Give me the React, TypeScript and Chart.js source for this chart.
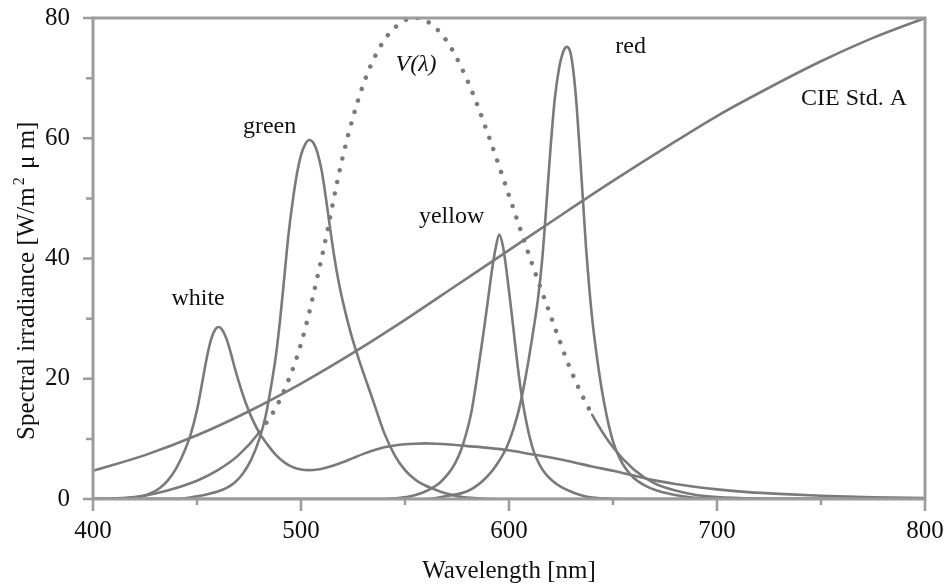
import React, { useEffect, useRef } from "react";
import { Chart, registerables } from "chart.js";

Chart.register(...registerables);

// ---- axis ticks ----
const xTickValues = [400, 450, 500, 550, 600, 650, 700, 750, 800];
const xTickLabels = [400, 500, 600, 700, 800];
const yTickValues = [0, 10, 20, 30, 40, 50, 60, 70, 80];
const yTickLabels = [0, 20, 40, 60, 80];

// ---- CIE Std. A ----
const cieWl = [400, 425, 450, 475, 500, 525, 550, 575, 600, 625, 650, 675, 700, 725, 750, 775, 800];
const cieVal = [4.7, 7.3, 10.6, 14.6, 19.2, 24.3, 29.8, 35.6, 41.4, 47.2, 52.9, 58.4, 63.7, 68.4, 72.8, 76.7, 80];

// ---- V(lambda) ----
const vWl = [400, 410, 420, 430, 440, 450, 460, 470, 480, 490, 500, 510, 520, 530, 540, 550, 555, 560, 570, 580, 590, 600, 610, 620, 630, 640, 650, 660, 670, 680, 690, 700, 720, 740, 760, 800];
const vVal = [0.03, 0.1, 0.32, 0.93, 1.84, 3.04, 4.8, 7.3, 11.1, 16.6, 25.8, 40.2, 56.8, 69.0, 76.3, 79.6, 80, 79.6, 76.2, 69.6, 60.6, 50.5, 40.2, 30.5, 21.2, 14.0, 8.6, 4.9, 2.6, 1.4, 0.66, 0.33, 0.08, 0.02, 0, 0];

// ---- white LED ----
const whiteWl = [400, 410, 418, 424, 428, 432, 436, 440, 444, 447, 450, 453, 455, 457, 459, 460.5, 462, 464, 466, 468, 470, 472, 474.5, 477, 480, 484, 488, 492, 496, 500, 504, 508, 512, 516, 520, 525, 530, 535, 540, 545, 550, 555, 560, 565, 570, 580, 590, 600, 610, 620, 630, 640, 650, 660, 670, 680, 690, 700, 715, 730, 750, 775, 800];
const whiteVal = [0, 0.05, 0.2, 0.5, 1, 1.8, 3.1, 5.1, 8, 10.8, 14.8, 20.3, 24, 26.8, 28.3, 28.6, 28.2, 26.8, 24.6, 22, 19.6, 17.4, 15, 13, 11, 9, 7.3, 6.1, 5.3, 4.9, 4.8, 4.9, 5.2, 5.6, 6.1, 6.8, 7.5, 8.1, 8.6, 8.9, 9.1, 9.2, 9.25, 9.2, 9.1, 8.8, 8.5, 8.1, 7.5, 6.9, 6.2, 5.4, 4.7, 3.9, 3.1, 2.5, 2.0, 1.6, 1.15, 0.85, 0.55, 0.3, 0.15];

// ---- green LED ----
const greenWl = [400, 440, 445, 450, 455, 460, 464, 468, 472, 476, 480, 483, 486, 488, 490, 492, 494, 496, 498, 500, 502, 504, 506, 508, 510, 512, 514, 516, 518, 520, 524, 528, 532, 536, 540, 545, 550, 555, 560, 565, 570, 576, 585, 595, 800];
const greenVal = [0, 0, 0.15, 0.45, 0.8, 1.25, 1.8, 2.7, 4.2, 6.5, 10, 13.8, 19.5, 24, 30, 37, 44, 49.5, 54, 57.2, 59, 59.7, 59.2, 57.5, 54.5, 50, 45, 40.3, 36.3, 33, 27.5, 23, 19, 15, 11, 7.3, 4.8, 3.2, 2.2, 1.5, 0.9, 0.4, 0.1, 0, 0];

// ---- yellow LED ----
const yellowWl = [400, 540, 545, 552, 558, 563, 567, 571, 574, 577, 580, 582, 584, 586, 588, 590, 592, 593.5, 595.3, 597, 598.5, 600, 602, 604, 606, 608, 610, 612, 615, 618, 621, 625, 630, 637, 645, 655, 800];
const yellowVal = [0, 0, 0.1, 0.4, 1.0, 1.8, 2.8, 4.3, 5.9, 8.2, 11.6, 14.6, 18.8, 23.5, 28.3, 33.4, 38.5, 41.6, 44, 42.2, 38.8, 34.6, 28.7, 22.6, 17.4, 13.4, 10.2, 7.8, 5.5, 4.0, 3.0, 2.0, 1.2, 0.4, 0.1, 0, 0];

// ---- red LED ----
const redWl = [400, 560, 570, 580, 586, 591, 595, 599, 602, 605, 608, 611, 614, 616, 618, 620, 622, 624, 626, 627.7, 629.5, 631, 632.5, 634, 635.5, 637, 638.5, 640, 642, 644, 646, 648, 650, 653, 656, 660, 665, 671, 678, 687, 700, 710, 800];
const redVal = [0, 0, 0.5, 1.3, 2.6, 4.3, 6.2, 8.7, 11.5, 15.2, 20.3, 26.5, 33.5, 40, 49, 58.5, 66.5, 71.5, 74.3, 75.2, 74.3, 71, 65.5, 58, 50, 42, 35.5, 30, 24.3, 19.5, 15.5, 12.2, 9.6, 6.9, 5.1, 3.5, 2.3, 1.4, 0.8, 0.3, 0.05, 0, 0];

// ---- curve annotations (data coordinates) ----
const noteText = ["white", "green", "V(λ)", "yellow", "red", "CIE Std. A"];
const noteX = [450.5, 484.9, 555.3, 572.4, 658.5, 765.9];
const noteY = [32.3, 60.9, 71.2, 45.9, 74.2, 65.6];
const noteItalic = [false, false, true, false, false, false];

const SERIF = '"Liberation Serif", "Times New Roman", Times, serif';
const LINE = "#7a7a7a";
const FRAME = "#9c9c9c";
const TEXT = "#111111";

const pts = (xs: number[], ys: number[]) => xs.map((x, i) => ({ x, y: ys[i] }));

const zeroPad = (s: any) => {
  s.paddingTop = 0;
  s.paddingBottom = 0;
  s.paddingLeft = 0;
  s.paddingRight = 0;
};

const overlayPlugin = {
  id: "overlay",
  afterDatasetsDraw(chart: any) {
    const { ctx, chartArea: a, scales } = chart;
    ctx.save();
    ctx.strokeStyle = FRAME;
    ctx.lineWidth = 3;
    ctx.strokeRect(a.left, a.top, a.right - a.left, a.bottom - a.top);
    // tick marks: major longer, minor shorter
    ctx.lineWidth = 2.5;
    ctx.beginPath();
    for (const v of xTickValues) {
      const px = scales.x.getPixelForValue(v);
      const len = xTickLabels.includes(v) ? 12 : 6;
      ctx.moveTo(px, a.bottom);
      ctx.lineTo(px, a.bottom + len);
    }
    for (const v of yTickValues) {
      const py = scales.y.getPixelForValue(v);
      const len = yTickLabels.includes(v) ? 10 : 7;
      ctx.moveTo(a.left, py);
      ctx.lineTo(a.left - len, py);
    }
    ctx.stroke();
    ctx.restore();
  },
  afterDraw(chart: any) {
    const { ctx, scales } = chart;
    ctx.save();
    ctx.textBaseline = "alphabetic";
    ctx.textAlign = "center";
    for (let i = 0; i < noteText.length; i++) {
      const px = scales.x.getPixelForValue(noteX[i]);
      const py = scales.y.getPixelForValue(noteY[i]);
      ctx.font = `${noteItalic[i] ? "italic " : ""}24px ${SERIF}`;
      const w = ctx.measureText(noteText[i]).width;
      ctx.fillStyle = "#ffffff";
      ctx.fillRect(px - w / 2 - 3, py - 19, w + 6, 25);
      ctx.fillStyle = TEXT;
      ctx.fillText(noteText[i], px, py);
    }
    // y axis title with superscript
    const cy = scales.y.getPixelForValue(36.3);
    const bx = 34;
    ctx.translate(bx, cy);
    ctx.rotate(-Math.PI / 2);
    ctx.textAlign = "left";
    const big = `25px ${SERIF}`;
    const small = `16px ${SERIF}`;
    const p1 = "Spectral irradiance [W/m";
    const p2 = "2";
    const p3 = " μ m]";
    ctx.font = big;
    const w1 = ctx.measureText(p1).width;
    const w3 = ctx.measureText(p3).width;
    ctx.font = small;
    const w2 = ctx.measureText(p2).width + 4;
    const total = w1 + w2 + w3;
    let x0 = -total / 2;
    ctx.fillStyle = TEXT;
    ctx.font = big;
    ctx.fillText(p1, x0, 0);
    x0 += w1 + 2;
    ctx.font = small;
    ctx.fillText(p2, x0, -10);
    x0 += w2 - 2;
    ctx.font = big;
    ctx.fillText(p3, x0, 0);
    ctx.restore();
  },
};

export default function App() {
  const ref = useRef<HTMLCanvasElement | null>(null);

  useEffect(() => {
    document.body.style.margin = "0";
    const canvas = ref.current;
    if (!canvas) return;

    const base = {
      borderColor: LINE,
      borderWidth: 2.6,
      pointRadius: 0,
      fill: false,
      cubicInterpolationMode: "monotone" as const,
    };

    const chart = new Chart(canvas, {
      type: "line",
      data: {
        datasets: [
          { ...base, label: "CIE Std. A", data: pts(cieWl, cieVal) },
          {
            ...base,
            label: "V(λ)",
            data: pts(vWl, vVal),
            borderCapStyle: "round",
            segment: {
              borderDash: (c: any) =>
                c.p0.parsed.y > 11 && c.p1.parsed.y > 11 ? [0.01, 12] : undefined,
              borderWidth: (c: any) =>
                c.p0.parsed.y > 11 && c.p1.parsed.y > 11 ? 4.5 : 2.6,
            },
          },
          { ...base, label: "white", data: pts(whiteWl, whiteVal) },
          { ...base, label: "green", data: pts(greenWl, greenVal) },
          { ...base, label: "yellow", data: pts(yellowWl, yellowVal) },
          { ...base, label: "red", data: pts(redWl, redVal) },
        ],
      },
      options: {
        responsive: false,
        animation: false,
        devicePixelRatio: 1,
        layout: { padding: { left: 0, top: 18, right: 19, bottom: 0 } },
        plugins: {
          legend: { display: false },
          tooltip: { enabled: false },
        },
        scales: {
          x: {
            type: "linear",
            min: 400,
            max: 800,
            afterFit: (s: any) => {
              s.height = 87;
              zeroPad(s);
            },
            afterBuildTicks: (s: any) => {
              s.ticks = xTickValues.map((v) => ({ value: v }));
            },
            ticks: {
              autoSkip: false,
              maxRotation: 0,
              padding: 9,
              color: TEXT,
              font: { family: SERIF, size: 25 },
              callback: (v: any) => (xTickLabels.includes(Number(v)) ? String(v) : ""),
            },
            grid: { display: false },
            border: { display: false },
            title: {
              display: true,
              text: "Wavelength [nm]",
              color: TEXT,
              font: { family: SERIF, size: 25 },
              padding: { top: 0, bottom: 0 },
            },
          },
          y: {
            type: "linear",
            min: 0,
            max: 80,
            afterFit: (s: any) => {
              s.width = 93;
              zeroPad(s);
            },
            afterBuildTicks: (s: any) => {
              s.ticks = yTickValues.map((v) => ({ value: v }));
            },
            ticks: {
              autoSkip: false,
              padding: 15,
              color: TEXT,
              font: { family: SERIF, size: 25 },
              callback: (v: any) => (yTickLabels.includes(Number(v)) ? String(v) : ""),
            },
            grid: { display: false },
            border: { display: false },
            title: { display: false },
          },
        },
      },
      plugins: [overlayPlugin],
    } as any);

    return () => chart.destroy();
  }, []);

  return (
    <div style={{ width: 944, height: 586, background: "#ffffff" }}>
      <canvas ref={ref} width={944} height={586} style={{ width: 944, height: 586, display: "block" }} />
    </div>
  );
}
